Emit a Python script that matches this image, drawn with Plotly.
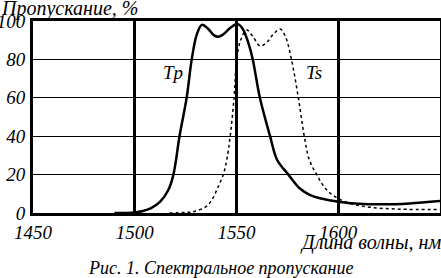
import plotly.graph_objects as go

# Data
tp_wl = [1490, 1500, 1504, 1508, 1512.5, 1516.5, 1519, 1522, 1525.5, 1528, 1530.5, 1533,
         1536, 1539, 1541, 1544, 1547, 1550.4, 1553, 1556, 1558, 1561.5, 1566.5, 1570,
         1575.5, 1581, 1586, 1591, 1600, 1610, 1622, 1635, 1650]
tp_val = [0, 0.3, 1, 2.5, 5.9, 12, 20, 40, 60, 80, 93, 98,
          96, 92.5, 91.8, 93.5, 96.5, 98.4, 96, 88, 80, 60, 40, 27.6,
          20, 12.9, 9.5, 7.7, 5.9, 4.8, 4.5, 5, 6.2]

ts_wl = [1517, 1525, 1529, 1535, 1538, 1541, 1543.5, 1545.2, 1546.9, 1548.8, 1550.1, 1552,
         1555, 1558, 1561.6, 1565, 1568, 1571.4, 1574, 1577, 1580.4, 1583.3, 1585.8,
         1589.4, 1593.5, 1598.4, 1605.7, 1615.5, 1630, 1650]
ts_val = [0, 0.3, 0.7, 3.3, 7, 13.7, 20, 27.6, 40, 60, 79.7, 90,
          95.3, 92, 87, 89, 93, 95.8, 92, 80, 60, 40, 27.6,
          20, 13, 8.5, 5, 3, 2, 1.8]

x_ticks = [1450, 1500, 1550, 1600, 1650]
y_ticks = [0, 20, 40, 60, 80, 100]

FONT = "Liberation Serif"

def f(size=18):
    return dict(family=FONT, size=size, style="italic", color="black")

fig = go.Figure()
fig.add_trace(go.Scatter(x=tp_wl, y=tp_val, mode="lines", name="Tp",
                         line=dict(color="black", width=2.5, shape="spline", smoothing=1.0)))
fig.add_trace(go.Scatter(x=ts_wl, y=ts_val, mode="lines", name="Ts",
                         line=dict(color="black", width=1.5, dash="dot", shape="spline", smoothing=1.0)))

fig.update_layout(
    width=441, height=278,
    margin=dict(l=33, r=1, t=21, b=65, autoexpand=False),
    paper_bgcolor="white", plot_bgcolor="white",
    showlegend=False,
    font=f(),
    xaxis=dict(range=[1450, 1650], tickvals=x_ticks, ticktext=[str(v) for v in x_ticks],
               showgrid=True, gridcolor="black", gridwidth=2.5,
               showline=True, linecolor="black", linewidth=3, mirror=True,
               ticks="", zeroline=False, automargin=False, ticklabelstandoff=0,
               tickfont=f(19)),
    yaxis=dict(range=[0, 100], tickvals=y_ticks, ticktext=[str(v) for v in y_ticks],
               showgrid=True, gridcolor="black", gridwidth=1,
               showline=True, linecolor="black", linewidth=3, mirror=True,
               ticks="", zeroline=False, automargin=False, ticklabelstandoff=1,
               tickfont=f(19)),
    annotations=[
        dict(x=1519, y=73, xref="x", yref="y", text="Tp", showarrow=False, font=f(19)),
        dict(x=1588, y=73, xref="x", yref="y", text="Ts", showarrow=False, font=f(19)),
        dict(x=0, y=1, xref="paper", yref="paper", xanchor="left", yanchor="middle",
             yshift=13, xshift=-34, text="Пропускание, %", showarrow=False, font=f(20)),
        dict(x=1, y=0, xref="paper", yref="paper", xanchor="right", yanchor="middle",
             yshift=-29, xshift=3, text="Длина волны, нм", showarrow=False, font=f(20)),
        dict(x=0.463, y=0, xref="paper", yref="paper", xanchor="center", yanchor="middle",
             yshift=-55, text="Рис. 1. Спектральное пропускание", showarrow=False, font=f(18)),
    ],
)

fig.write_html("out.html", config={"displayModeBar": False},
               post_script="document.body.style.margin='0';document.body.style.padding='0';")
